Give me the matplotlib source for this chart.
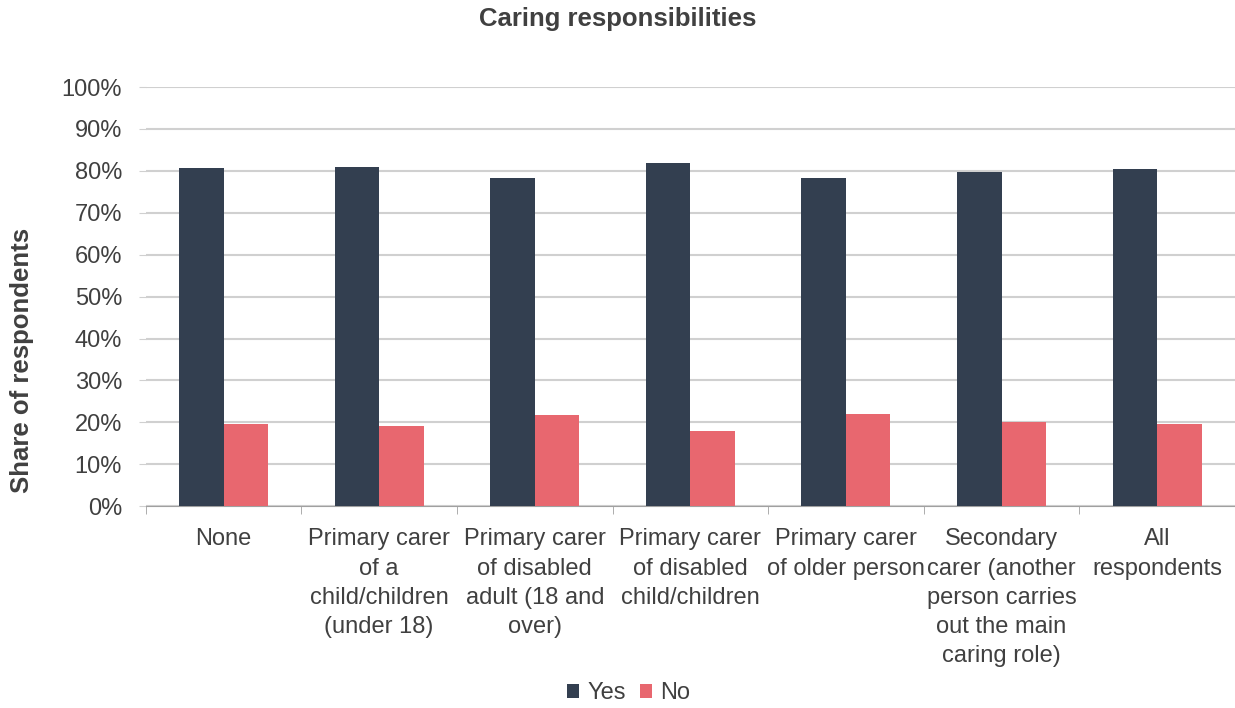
import numpy as np
import matplotlib
matplotlib.use("Agg")
import matplotlib.pyplot as plt

# ---------- data
categories = ["None",
              "Primary carer\nof a\nchild/children\n(under 18)",
              "Primary carer\nof disabled\nadult (18 and\nover)",
              "Primary carer\nof disabled\nchild/children",
              "Primary carer\nof older person",
              "Secondary\ncarer (another\nperson carries\nout the main\ncaring role)",
              "All\nrespondents"]
yes_vals = [80.6, 81.0, 78.3, 82.0, 78.2, 79.8, 80.4]
no_vals = [19.5, 19.2, 21.7, 18.0, 21.9, 20.2, 19.7]

plt.rcParams['font.family'] = ['Liberation Sans', 'DejaVu Sans']
txt = '#404040'
grid = '#d0d0d0'

fig = plt.figure(figsize=(12.35, 7.08), dpi=100)
ax = fig.add_axes([0.118, 0.285, 0.882, 0.592])

x = np.arange(len(categories))
w = 0.286
ax.bar(x - w/2, yes_vals, w, color='#333f50', label='Yes', zorder=3)
ax.bar(x + w/2, no_vals, w, color='#e8676f', label='No', zorder=3)

ax.set_xlim(-0.5, len(categories) - 0.5)
ax.set_ylim(0, 100)
ax.set_yticks(np.arange(0, 101, 10))
ax.set_yticklabels([f"{v}%" for v in range(0, 101, 10)], fontsize=17, color=txt)
ax.yaxis.grid(True, color=grid, linewidth=1.5, zorder=0)
ax.tick_params(axis='y', length=5, color=grid, pad=12)

ax.set_xticks(x)
ax.set_xticklabels(categories, fontsize=17, color=txt, linespacing=1.42)
ax.set_xticks(np.arange(-0.5, len(categories)), minor=True)
ax.tick_params(axis='x', which='major', length=0, pad=16)
ax.tick_params(axis='x', which='minor', length=6, color='#a0a0a0')

for s in ['top', 'right', 'left']:
    ax.spines[s].set_visible(False)
ax.spines['bottom'].set_color('#a0a0a0')

ax.set_ylabel("Share of respondents", fontsize=18.5, fontweight='bold', color=txt)
ax.yaxis.set_label_coords(-0.103, 0.348)
fig.suptitle("Caring responsibilities", fontsize=18.5, fontweight='bold', color=txt, y=0.99)

fig.legend(loc='lower center', bbox_to_anchor=(0.509, -0.025), ncol=2, frameon=False,
           fontsize=17, handlelength=0.5, handleheight=0.5, handletextpad=0.35,
           columnspacing=0.6, labelcolor=txt)

fig.savefig("out.png", dpi=100)
